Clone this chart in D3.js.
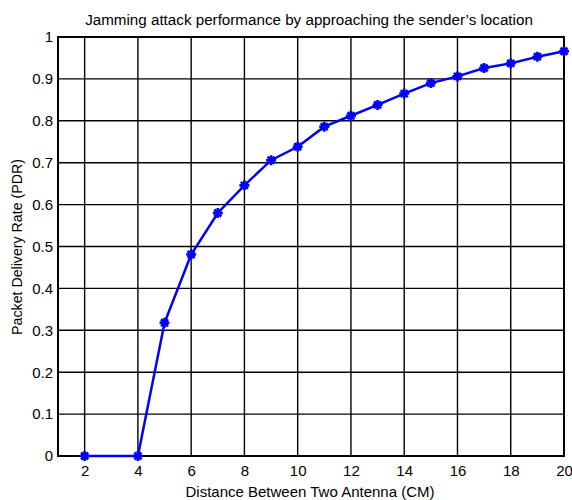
<!DOCTYPE html>
<html><head><meta charset="utf-8">
<script src="https://cdn.jsdelivr.net/npm/d3@7"></script>
<style>body{margin:0;background:#fff}svg text{font-family:"Liberation Sans",Arial,sans-serif;fill:#000}</style>
</head><body>
<svg id="c" width="572" height="500"></svg>
<script>
const distances = [2,4,5,6,7,8,9,10,11,12,13,14,15,16,17,18,19,20];
const pdr = [0,0,0.318,0.481,0.58,0.646,0.706,0.738,0.786,0.812,0.838,0.865,0.89,0.906,0.926,0.937,0.953,0.966];
const xTicks = [2,4,6,8,10,12,14,16,18,20];
const yTicks = [0,0.1,0.2,0.3,0.4,0.5,0.6,0.7,0.8,0.9,1];
const title = "Jamming attack performance by approaching the sender\u2019s location";
const xLabel = "Distance Between Two Antenna (CM)";
const yLabel = "Packet Delivery Rate (PDR)";

const svg = d3.select("#c");
const L=58,R=564,T=37,B=456;
const x = d3.scaleLinear().domain([1,20]).range([L,R]);
const y = d3.scaleLinear().domain([0,1]).range([B,T]);
const FF = "Liberation Sans, Arial, sans-serif";

// grid
svg.append("g").selectAll("line").data(xTicks.filter(d=>d<20)).join("line")
  .attr("x1",d=>x(d)).attr("x2",d=>x(d)).attr("y1",T).attr("y2",B)
  .attr("stroke","#000").attr("stroke-width",1.4);
svg.append("g").selectAll("line").data(yTicks.filter(d=>d>0&&d<1)).join("line")
  .attr("x1",L).attr("x2",R).attr("y1",d=>y(d)).attr("y2",d=>y(d))
  .attr("stroke","#000").attr("stroke-width",1.4);
svg.append("rect").attr("x",L).attr("y",T).attr("width",R-L).attr("height",B-T)
  .attr("fill","none").attr("stroke","#000").attr("stroke-width",2);

// axes labels
const xa = svg.append("g").attr("transform",`translate(0,${B})`).call(d3.axisBottom(x).tickValues(xTicks).tickSize(0).tickPadding(9).tickFormat(d3.format("d")));
xa.select(".domain").remove();
xa.selectAll("text").attr("font-size",15).style("font-family",FF);
const ya = svg.append("g").attr("transform",`translate(${L},0)`).call(d3.axisLeft(y).tickValues(yTicks).tickSize(0).tickPadding(5).tickFormat(d=>d3.format("~g")(d)));
ya.select(".domain").remove();
ya.selectAll("text").attr("font-size",15).style("font-family",FF);

svg.append("text").attr("x",309).attr("y",25).attr("text-anchor","middle").attr("font-size",15.2).text(title);
svg.append("text").attr("x",310).attr("y",497).attr("text-anchor","middle").attr("font-size",15).text(xLabel);
svg.append("text").attr("transform",`translate(22,247) rotate(-90)`).attr("text-anchor","middle").attr("font-size",14.2).text(yLabel);

// line
const pts = distances.map((d,i)=>[d,pdr[i]]);
svg.append("path").datum(pts)
  .attr("d",d3.line().x(d=>x(d[0])).y(d=>y(d[1])))
  .attr("fill","none").attr("stroke","#0000ff").attr("stroke-width",2.5);
const m = svg.append("g").selectAll("g").data(pts).join("g")
  .attr("transform",d=>`translate(${x(d[0])},${y(d[1])})`);
m.append("path").attr("d","M-5,0H5M0,-5V5M-3.5,-3.5L3.5,3.5M-3.5,3.5L3.5,-3.5")
  .attr("stroke","#0000ff").attr("stroke-width",2.6).attr("fill","none");
</script>
</body></html>
